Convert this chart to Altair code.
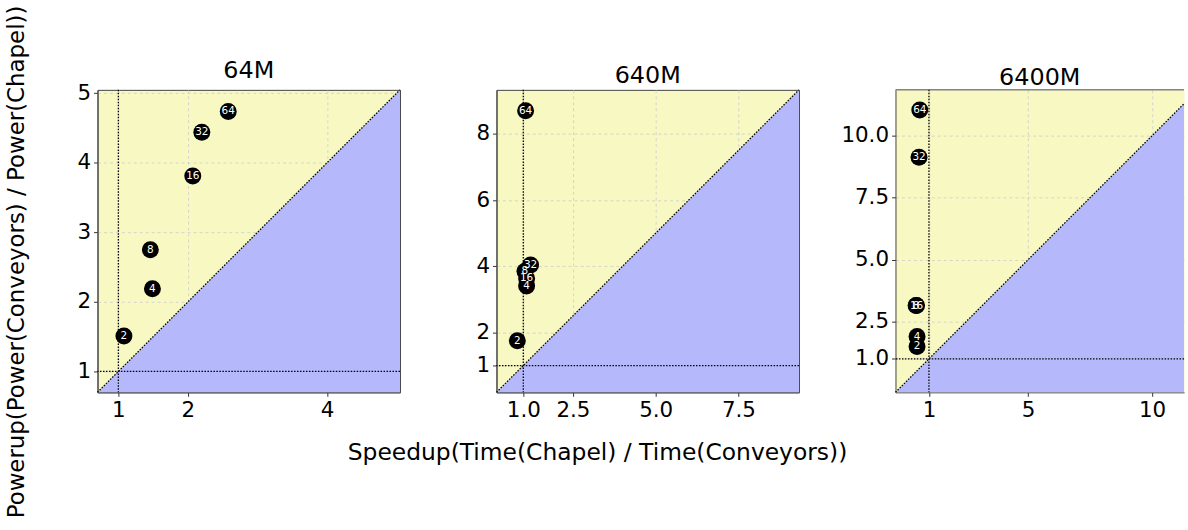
import altair as alt
import pandas as pd

# ---- data ----
labels = ["2", "4", "8", "16", "32", "64"]

titles = ["64M", "640M", "6400M"]

speedup_64m = [1.08, 1.49, 1.46, 2.07, 2.20, 2.58]
powerup_64m = [1.51, 2.19, 2.75, 3.81, 4.44, 4.74]

speedup_640m = [0.82, 1.10, 1.05, 1.10, 1.22, 1.07]
powerup_640m = [1.75, 3.40, 3.85, 3.63, 4.04, 8.70]

speedup_6400m = [0.52, 0.52, 0.48, 0.50, 0.60, 0.63]
powerup_6400m = [1.50, 1.90, 3.15, 3.15, 9.13, 11.04]

xticks_64m = [1, 2, 4]
yticks_64m = [1, 2, 3, 4, 5]
xticks_640m = [1.0, 2.5, 5.0, 7.5]
yticks_640m = [1, 2, 4, 6, 8]
xticks_6400m = [1, 5, 10]
yticks_6400m = [1.0, 2.5, 5.0, 7.5, 10.0]

x_label = "Speedup(Time(Chapel) / Time(Conveyors))"
y_label = "Powerup(Power(Conveyors) / Power(Chapel))"

YELLOW = "#f7f8c2"
BLUE = "#b5b8fa"
FRAME = "#444444"
FONT = "DejaVu Sans"


def panel(title, speed, power, lo, xhi, yhi, xticks, yticks, xfmt, yfmt,
          width, xaxis_extra, full_frame):
    pts = pd.DataFrame({"x": speed, "y": power, "n": labels})
    diag = pd.DataFrame({"x": [lo, xhi], "y": [lo, xhi]})
    one_x = pd.DataFrame({"x": [1.0]})
    one_y = pd.DataFrame({"y": [1.0]})
    top_edge = pd.DataFrame({"y": [yhi]})

    xscale = alt.Scale(domain=[lo, xhi], nice=False, zero=False)
    yscale = alt.Scale(domain=[lo, yhi], nice=False, zero=False)
    xaxis = alt.Axis(values=xticks, format=xfmt, **xaxis_extra)
    yaxis = alt.Axis(values=yticks, format=yfmt, title=None)

    def X():
        return alt.X("x:Q", scale=xscale, axis=xaxis)

    def Y():
        return alt.Y("y:Q", scale=yscale, axis=yaxis)

    area = alt.Chart(diag).mark_area(color=BLUE).encode(
        x=X(), y=Y(), y2=alt.datum(lo))
    dline = alt.Chart(diag).mark_line(
        color="black", strokeDash=[1.5, 1.5], strokeWidth=1.3
    ).encode(x=X(), y=Y())
    vline = alt.Chart(one_x).mark_rule(
        color="black", strokeDash=[1.5, 1.5], strokeWidth=1.3).encode(x=X())
    hline = alt.Chart(one_y).mark_rule(
        color="black", strokeDash=[1.5, 1.5], strokeWidth=1.3).encode(y=Y())
    dots = alt.Chart(pts).mark_circle(
        color="black", size=290, opacity=1).encode(x=X(), y=Y())
    txt = alt.Chart(pts).mark_text(
        color="white", fontSize=10.5, font=FONT, align="center",
        baseline="middle").encode(x=X(), y=Y(), text="n:N")

    layers = [area, dline, vline, hline, dots, txt]
    if not full_frame:
        layers.append(alt.Chart(top_edge).mark_rule(
            color=FRAME, strokeWidth=1).encode(y=Y()))

    return alt.layer(*layers).properties(
        width=width, height=304,
        title=alt.TitleParams(title),
        view=alt.ViewBackground(fill=YELLOW,
                                stroke=FRAME if full_frame else "transparent"),
    )


p1 = panel(titles[0], speedup_64m, powerup_64m, 0.70, 5.05, 5.05,
           xticks_64m, yticks_64m, "d", "d", 304,
           dict(title=None), True)
p2 = panel(titles[1], speedup_640m, powerup_640m, 0.19, 9.33, 9.33,
           xticks_640m, yticks_640m, ".1f", "d", 304,
           dict(title=x_label, titleX=101, titleY=61, titleAngle=0,
                titleAlign="center", titleBaseline="middle",
                titleFontSize=23.5, titleFont=FONT,
                titleFontWeight="normal", titleColor="black"),
           True)
p3 = panel(titles[2], speedup_6400m, powerup_6400m, -0.35, 11.29, 11.85,
           xticks_6400m, yticks_6400m, "d", ".1f", 290,
           dict(title=None), False)

chart = alt.hconcat(p1, p2, p3, spacing=97, bounds="flush").properties(
    title=alt.TitleParams(y_label, orient="left", anchor="middle",
                          fontSize=23, font=FONT,
                          fontWeight="normal", color="black",
                          offset=28, dy=-20),
    padding={"left": 5, "top": 4, "right": 0, "bottom": 0},
).configure(font=FONT).configure_axis(
    labelFontSize=21.5, labelFont=FONT, labelColor="black",
    labelFlush=False, labelOverlap=False, labelPadding=3,
    tickColor="#333333", tickSize=4, tickWidth=1,
    domainColor=FRAME, domainWidth=1,
    grid=True, gridColor="#cccccc", gridDash=[3, 3], gridWidth=0.8,
    zindex=1,
).configure_title(
    fontSize=24, font=FONT, fontWeight="normal", color="black", offset=-1
)

chart.save("out.html", embed_options={"renderer": "svg", "actions": False})
